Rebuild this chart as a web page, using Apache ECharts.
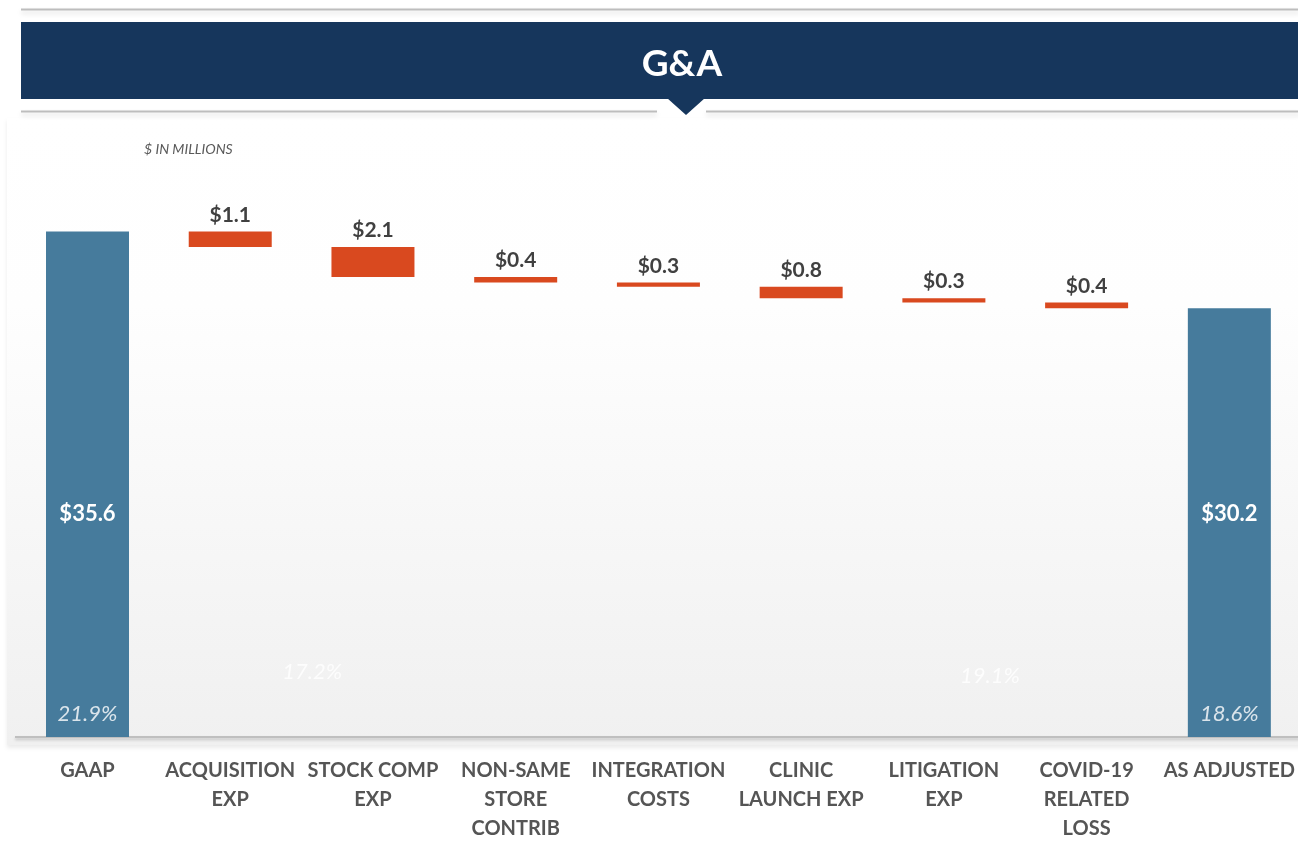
<!DOCTYPE html>
<html>
<head>
<meta charset="utf-8">
<title>G&amp;A</title>
<script src="https://cdn.jsdelivr.net/npm/echarts@6/dist/echarts.min.js"></script>
<style>
  html, body { margin: 0; padding: 0; background: #fff; }
  #chart { width: 1298px; height: 862px; }
</style>
</head>
<body>
<div id="chart"></div>
<script>
// categories (x axis)
var categories = ['GAAP', 'ACQUISITION\nEXP', 'STOCK COMP\nEXP', 'NON-SAME\nSTORE\nCONTRIB',
  'INTEGRATION\nCOSTS', 'CLINIC\nLAUNCH EXP', 'LITIGATION\nEXP', 'COVID-19\nRELATED\nLOSS', 'AS ADJUSTED'];
// totals ($ millions), '-' where the step is an adjustment
var totals = [35.6, '-', '-', '-', '-', '-', '-', '-', 30.2];
// adjustments ($ millions), taken off the running total
var adjustments = ['-', 1.1, 2.1, 0.4, 0.3, 0.8, 0.3, 0.4, '-'];
// margin labels as printed
var ratioLabels = ['21.9%', '17.2%', '-', '-', '-', '-', '19.1%', '-', '18.6%'];

// invisible base under each adjustment bar
var base = [];
var running = totals[0];
for (var i = 0; i < categories.length; i++) {
  if (adjustments[i] === '-') { base.push('-'); continue; }
  running = Math.round((running - adjustments[i]) * 10) / 10;
  base.push(running);
}

var navy = '#16365c';
var blue = '#467b9c';
var red = '#d9491f';
var font = 'Lato';

// where the stray margin labels sit relative to their category
var ratioOffsets = { 0: [0, 0], 1: [82, -42], 6: [46, -38], 8: [0, 0] };

var ratioData = [];
for (var j = 0; j < ratioLabels.length; j++) {
  if (ratioLabels[j] === '-') { ratioData.push('-'); continue; }
  ratioData.push({
    value: 0,
    name: ratioLabels[j],
    label: { offset: ratioOffsets[j] }
  });
}

var chart = echarts.init(document.getElementById('chart'));

var option = {
  backgroundColor: '#ffffff',
  animation: false,
  textStyle: { fontFamily: font },
  title: [
    {
      text: 'G&A',
      left: 677,
      top: 41,
      textAlign: 'center',
      textStyle: { color: '#ffffff', fontSize: 37, fontWeight: 'bold', fontFamily: font }
    },
    {
      text: '$ IN MILLIONS',
      left: 139,
      top: 137,
      textStyle: { color: '#595959', fontSize: 14, fontStyle: 'italic', fontWeight: 'normal', fontFamily: font }
    }
  ],
  graphic: [
    // plot panel background
    {
      type: 'rect', z: -10, silent: true,
      shape: { x: 7, y: 118, width: 1300, height: 627 },
      style: {
        fill: new echarts.graphic.LinearGradient(0, 0, 0, 1, [
          { offset: 0, color: '#ffffff' },
          { offset: 0.3, color: '#fefefe' },
          { offset: 1, color: '#f0f0f0' }
        ]),
        shadowBlur: 4, shadowColor: 'rgba(0,0,0,0.08)', shadowOffsetY: 3
      }
    },
    // header band
    {
      type: 'line', z: 5, silent: true,
      shape: { x1: 21, y1: 9.5, x2: 1300, y2: 9.5 },
      style: { stroke: '#bdbdbd', lineWidth: 2, shadowBlur: 5, shadowColor: 'rgba(0,0,0,0.15)', shadowOffsetY: 3 }
    },
    {
      type: 'rect', z: 5, silent: true,
      shape: { x: 21, y: 22, width: 1280, height: 77 },
      style: { fill: navy }
    },
    {
      type: 'polygon', z: 6, silent: true,
      shape: { points: [[667, 98], [705, 98], [686, 115]] },
      style: { fill: navy }
    },
    {
      type: 'line', z: 5, silent: true,
      shape: { x1: 21, y1: 111.5, x2: 657, y2: 111.5 },
      style: { stroke: '#bdbdbd', lineWidth: 2, shadowBlur: 5, shadowColor: 'rgba(0,0,0,0.15)', shadowOffsetY: 3 }
    },
    {
      type: 'line', z: 5, silent: true,
      shape: { x1: 706, y1: 111.5, x2: 1300, y2: 111.5 },
      style: { stroke: '#bdbdbd', lineWidth: 2, shadowBlur: 5, shadowColor: 'rgba(0,0,0,0.15)', shadowOffsetY: 3 }
    },
    // baseline runs under the first and last bars too
    {
      type: 'line', z: 1, silent: true,
      shape: { x1: 15, y1: 737, x2: 1300, y2: 737 },
      style: { stroke: '#bfbfbf', lineWidth: 2, shadowBlur: 3, shadowColor: 'rgba(0,0,0,0.2)', shadowOffsetY: 2 }
    }
  ],
  grid: {
    left: 87.5,
    right: 66.5,
    top: 169,
    bottom: 125,
    containLabel: false
  },
  xAxis: {
    type: 'category',
    data: categories,
    boundaryGap: false,
    axisTick: { show: false },
    axisLine: { show: false },
    axisLabel: {
      interval: 0,
      margin: 19,
      color: '#555555',
      fontSize: 20,
      fontWeight: 'bold',
      lineHeight: 29,
      fontFamily: font
    }
  },
  yAxis: {
    type: 'value',
    min: 0,
    max: 40,
    show: false,
    splitLine: { show: false }
  },
  series: [
    {
      name: 'base',
      type: 'bar',
      stack: 'gna',
      barWidth: 83,
      clip: false,
      silent: true,
      itemStyle: { color: 'transparent' },
      data: base
    },
    {
      name: 'adjustment',
      type: 'bar',
      stack: 'gna',
      barWidth: 83,
      clip: false,
      itemStyle: { color: red },
      label: {
        show: true,
        position: 'top',
        distance: 6,
        color: '#404040',
        fontSize: 21,
        fontWeight: 'bold',
        fontFamily: font,
        formatter: function (p) { return '$' + p.value.toFixed(1); }
      },
      data: adjustments
    },
    {
      name: 'total',
      type: 'bar',
      stack: 'gna',
      barWidth: 83,
      clip: false,
      z: 3,
      itemStyle: { color: blue },
      label: {
        show: true,
        position: 'insideBottom',
        distance: 212,
        color: '#ffffff',
        fontSize: 22,
        fontWeight: 'bold',
        fontFamily: font,
        formatter: function (p) { return '$' + p.value.toFixed(1); }
      },
      data: totals
    },
    {
      name: 'ratio',
      type: 'scatter',
      symbolSize: 0,
      silent: true,
      clip: false,
      z: 10,
      label: {
        show: true,
        position: 'top',
        distance: 12,
        color: '#ffffff',
        fontSize: 22,
        fontStyle: 'italic',
        fontFamily: font,
        formatter: function (p) { return p.name; }
      },
      data: ratioData
    }
  ]
};

chart.setOption(option);
</script>
</body>
</html>
